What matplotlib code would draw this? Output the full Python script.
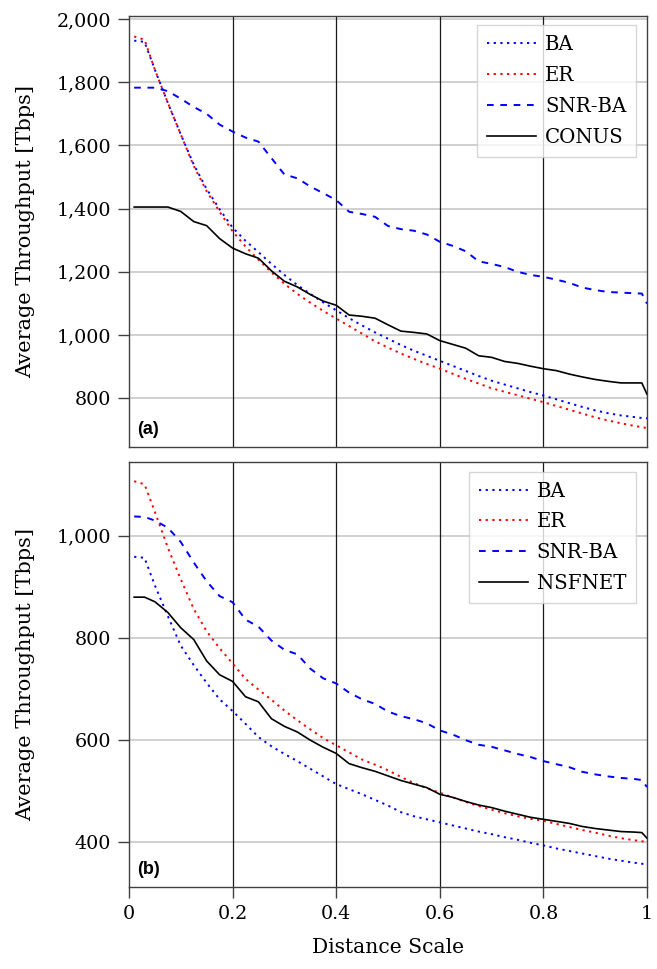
import matplotlib
matplotlib.use("Agg")
import matplotlib.pyplot as plt
from matplotlib.ticker import FuncFormatter, MultipleLocator

plt.rcParams['font.family'] = ['DejaVu Serif']
plt.rcParams['lines.scale_dashes'] = False

# distance scale samples
x = [0.01, 0.03, 0.05, 0.075, 0.1, 0.125, 0.15, 0.175, 0.2, 0.225, 0.25, 0.275,
     0.3, 0.325, 0.35, 0.375, 0.4, 0.425, 0.45, 0.475, 0.5, 0.525, 0.55, 0.575,
     0.6, 0.625, 0.65, 0.675, 0.7, 0.725, 0.75, 0.775, 0.8, 0.825, 0.85, 0.875,
     0.9, 0.925, 0.95, 0.975, 0.99, 1.0]

# (a) CONUS
ba_a = [1932, 1928, 1840, 1735, 1635, 1540, 1462, 1398, 1340, 1298, 1262, 1225,
        1190, 1158, 1130, 1103, 1078, 1053, 1030, 1008, 988, 968, 950, 934,
        918, 902, 886, 870, 855, 843, 831, 819, 808, 796, 784, 772,
        761, 752, 745, 740, 737, 736]
er_a = [1945, 1935, 1840, 1735, 1635, 1535, 1455, 1390, 1328, 1280, 1238, 1198,
        1162, 1130, 1102, 1076, 1052, 1028, 1004, 980, 960, 941, 924, 908,
        893, 877, 861, 846, 831, 820, 809, 798, 787, 775, 763, 751,
        739, 729, 720, 712, 708, 705]
snr_a = [1783, 1783, 1783, 1772, 1748, 1722, 1700, 1666, 1644, 1625, 1612, 1560,
         1508, 1496, 1470, 1449, 1427, 1390, 1383, 1374, 1345, 1335, 1330, 1318,
         1295, 1282, 1265, 1233, 1225, 1215, 1200, 1190, 1184, 1175, 1165, 1150,
         1142, 1136, 1134, 1132, 1131, 1099]
conus = [1405, 1405, 1405, 1405, 1391, 1359, 1346, 1305, 1275, 1257, 1243, 1203,
         1170, 1152, 1128, 1107, 1094, 1063, 1059, 1053, 1032, 1012, 1008, 1003,
         982, 970, 958, 934, 929, 916, 910, 901, 893, 887, 876, 867,
         859, 853, 848, 848, 848, 812]

# (b) NSFNET
ba_b = [959, 957, 903, 843, 785, 747, 712, 680, 657, 632, 606, 588,
        573, 559, 544, 529, 514, 504, 494, 483, 472, 459, 451, 445,
        439, 433, 427, 421, 416, 410, 405, 399, 394, 388, 383, 378,
        373, 368, 364, 360, 358, 357]
er_b = [1107, 1101, 1047, 977, 915, 857, 813, 780, 750, 720, 699, 679,
        658, 639, 621, 604, 590, 576, 562, 552, 541, 528, 516, 506,
        497, 488, 479, 471, 464, 457, 451, 446, 442, 436, 430, 424,
        419, 413, 408, 404, 402, 401]
snr_b = [1038, 1037, 1030, 1016, 988, 948, 911, 882, 870, 836, 822, 795,
         777, 768, 740, 721, 711, 693, 680, 671, 656, 647, 641, 633,
         619, 611, 600, 591, 587, 580, 573, 567, 559, 553, 547, 538,
         533, 529, 526, 524, 522, 508]
nsfnet = [880, 880, 871, 850, 820, 797, 755, 728, 715, 685, 675, 642,
          627, 616, 600, 586, 574, 554, 546, 539, 530, 521, 514, 507,
          494, 488, 480, 473, 468, 461, 455, 449, 445, 441, 437, 431,
          427, 424, 421, 420, 419, 408]

fig = plt.figure(figsize=(6.57, 9.69), dpi=100)
ax1 = fig.add_axes([0.1963, 0.539, 0.7885, 0.4445])
ax2 = fig.add_axes([0.1963, 0.0849, 0.7885, 0.438])

dot = (0, (1.6, 3.2))
dash = (0, (4.8, 4.8))


def style(ax, ylim, step):
    ax.set_xlim(0, 1)
    ax.set_ylim(*ylim)
    ax.yaxis.set_major_locator(MultipleLocator(step))
    ax.yaxis.set_major_formatter(FuncFormatter(lambda v, p: f"{int(v):,}"))
    ax.xaxis.set_major_locator(MultipleLocator(0.2))
    ax.xaxis.set_major_formatter(FuncFormatter(lambda v, p: f"{v:g}"))
    for xv in [0.2, 0.4, 0.6, 0.8]:
        ax.axvline(xv, color='#1a1a1a', lw=0.9, zorder=1)
    ax.yaxis.grid(True, color='#c4c4c4', lw=1.1, zorder=0)
    ax.set_axisbelow(True)
    for s in ax.spines.values():
        s.set_color('#404040')
        s.set_linewidth(1.0)
    ax.tick_params(axis='both', direction='out', length=8, width=1,
                   color='#404040', labelsize=13.8, pad=5)
    ax.set_ylabel('Average Throughput [Tbps]', fontsize=15)
    ax.yaxis.set_label_coords(-0.182, 0.5)


def curves(ax, ba, er, snr, ref, name):
    ax.plot(x, ba, color='blue', lw=1.4, linestyle=dot, label='BA', zorder=3)
    ax.plot(x, er, color='red', lw=1.4, linestyle=dot, label='ER', zorder=3)
    ax.plot(x, snr, color='blue', lw=1.4, linestyle=dash, label='SNR-BA', zorder=3)
    ax.plot(x, ref, color='black', lw=1.2, label=name, zorder=3)


curves(ax1, ba_a, er_a, snr_a, conus, 'CONUS')
curves(ax2, ba_b, er_b, snr_b, nsfnet, 'NSFNET')

style(ax1, (646, 2010), 200)
style(ax2, (313, 1144), 200)
ax1.tick_params(axis='x', bottom=False, labelbottom=False)

for ax, lab in [(ax1, '(a)'), (ax2, '(b)')]:
    ax.text(0.015, 0.04, lab, transform=ax.transAxes, ha='left', va='center',
            fontsize=13, fontweight='bold', family='Liberation Sans', zorder=5)
    leg = ax.legend(loc='upper right', bbox_to_anchor=(0.979, 0.978),
                    borderaxespad=0, fontsize=14.2, fancybox=False,
                    edgecolor='#cccccc', framealpha=0.8, handlelength=2.5,
                    handletextpad=0.45, labelspacing=0.6, borderpad=0.5)
    leg.get_frame().set_linewidth(1.0)
    leg.set_zorder(6)

ax2.set_xlabel('Distance Scale', fontsize=14.6)
ax2.xaxis.set_label_coords(0.5, -0.12)

fig.savefig('out.png', dpi=100)
